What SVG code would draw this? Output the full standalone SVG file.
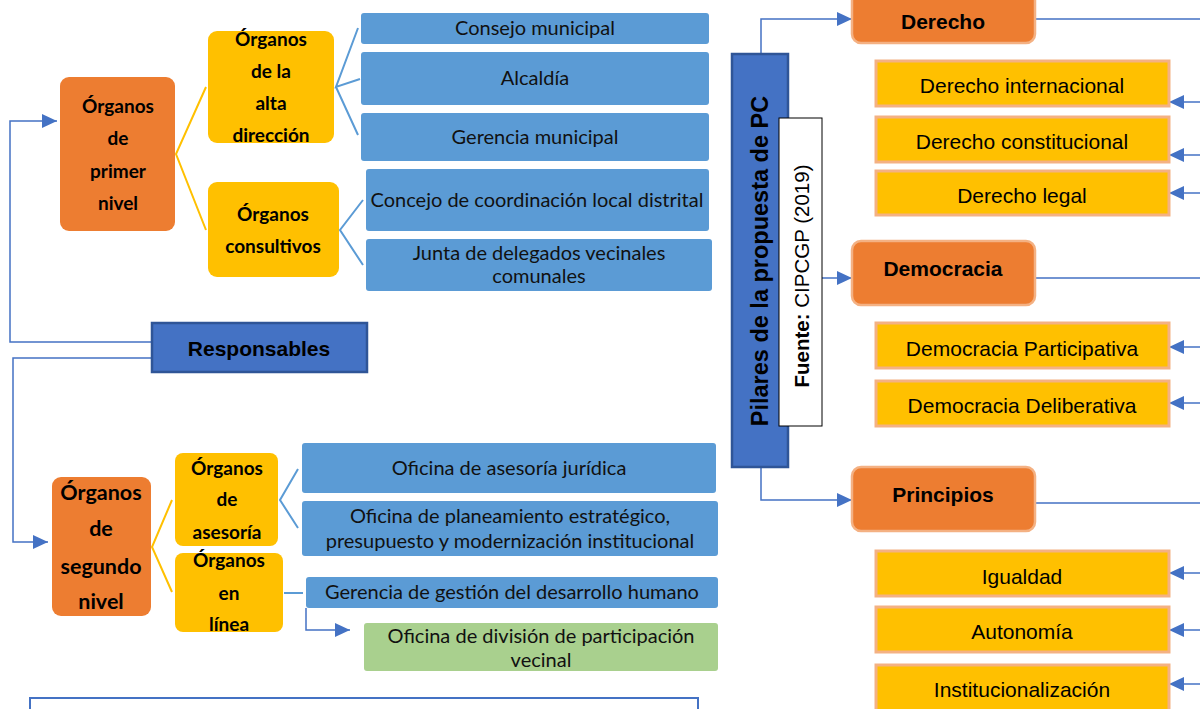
<svg xmlns="http://www.w3.org/2000/svg" width="1200" height="709" viewBox="0 0 1200 709">
<style>
.org{fill:#ED7D31}
.yel{fill:#FFC000}
.blu{fill:#5B9BD5}
.grn{fill:#A9D08E}
.dk{fill:#4472C4;stroke:#2F5597;stroke-width:2.5}
.oh{fill:#ED7D31;stroke:#F4B183;stroke-width:2.5}
.ys{fill:#FFC000;stroke:#F4B183;stroke-width:3}
.tb{font-family:Lato,"Open Sans",sans-serif;font-weight:bold;font-size:19px;fill:#000;text-anchor:middle}
.tn{font-family:Lato,"Open Sans",sans-serif;font-size:20px;fill:#111;text-anchor:middle}
.ta{font-family:"Liberation Sans",Arial,sans-serif;font-size:21px;fill:#000;text-anchor:middle}
.tab{font-family:"Liberation Sans",Arial,sans-serif;font-size:21px;font-weight:bold;fill:#000;text-anchor:middle}
.c{fill:none;stroke:#4472C4;stroke-width:1.5}
.fb{fill:none;stroke:#5B9BD5;stroke-width:2}
.fy{fill:none;stroke:#FFC000;stroke-width:2}
</style>
<defs>
<marker id="ah" viewBox="0 0 10 10" refX="10" refY="5" markerWidth="15" markerHeight="14" markerUnits="userSpaceOnUse" orient="auto" preserveAspectRatio="none"><path d="M0,0 L10,5 L0,10 z" fill="#4472C4"/></marker>
</defs>
<rect width="1200" height="709" fill="#fff"/>

<g id="connectors">
<path class="c" d="M152,342 H10 V121 H57" marker-end="url(#ah)"/>
<path class="c" d="M152,358 H13 V542 H48" marker-end="url(#ah)"/>
<path class="fy" d="M206,87 L176,154 L206,230"/>
<path class="fb" d="M358,28 L336,87 L360,79 M336,87 L358,135"/>
<path class="fb" d="M363,200 L340,230 L363,265"/>
<path class="fy" d="M172,500 L152,547 L172,592"/>
<path class="fb" d="M298,469 L280,500 L298,528"/>
<path class="fb" d="M284,593 H303"/>
<path class="c" d="M306,608 V630 H350" marker-end="url(#ah)"/>
<path class="c" d="M761,54 V19 H852" marker-end="url(#ah)"/>
<path class="c" d="M822,278 H852" marker-end="url(#ah)"/>
<path class="c" d="M761,467 V500 H852" marker-end="url(#ah)"/>
<path class="c" d="M1035,19 H1200 M1035,278 H1200 M1035,503 H1200"/>
<path class="c" d="M1200,102 H1169" marker-end="url(#ah)"/>
<path class="c" d="M1200,155 H1169" marker-end="url(#ah)"/>
<path class="c" d="M1200,193 H1169" marker-end="url(#ah)"/>
<path class="c" d="M1200,347 H1169" marker-end="url(#ah)"/>
<path class="c" d="M1200,403 H1169" marker-end="url(#ah)"/>
<path class="c" d="M1200,573 H1169" marker-end="url(#ah)"/>
<path class="c" d="M1200,630 H1169" marker-end="url(#ah)"/>
<path class="c" d="M1200,684 H1169" marker-end="url(#ah)"/>
</g>

<g id="primer-nivel">
<rect class="org" x="60" y="77" width="115" height="154" rx="9"/>
<text class="tb"><tspan x="118" y="113">Órganos</tspan><tspan x="118" y="145">de</tspan><tspan x="118" y="178">primer</tspan><tspan x="118" y="210">nivel</tspan></text>
</g>
<g id="alta-direccion">
<rect class="yel" x="208" y="31" width="126" height="112" rx="9"/>
<text class="tb"><tspan x="271" y="46">Órganos</tspan><tspan x="271" y="78">de la</tspan><tspan x="271" y="110">alta</tspan><tspan x="271" y="142">dirección</tspan></text>
</g>
<g id="consultivos">
<rect class="yel" x="208" y="182" width="131" height="95" rx="9"/>
<text class="tb"><tspan x="273" y="221">Órganos</tspan><tspan x="273" y="253">consultivos</tspan></text>
</g>
<g id="consejo">
<rect class="blu" x="361" y="13" width="348" height="31" rx="3"/>
<text class="tn" x="535" y="35">Consejo municipal</text>
</g>
<g id="alcaldia">
<rect class="blu" x="361" y="52" width="348" height="53" rx="3"/>
<text class="tn" x="535" y="85">Alcaldía</text>
</g>
<g id="gerencia-municipal">
<rect class="blu" x="361" y="113" width="348" height="48" rx="3"/>
<text class="tn" x="535" y="144">Gerencia municipal</text>
</g>
<g id="concejo-coordinacion">
<rect class="blu" x="366" y="169" width="343" height="62" rx="3"/>
<text class="tn" x="537" y="207">Concejo de coordinación local distrital</text>
</g>
<g id="junta">
<rect class="blu" x="366" y="239" width="346" height="52" rx="3"/>
<text class="tn"><tspan x="539" y="260">Junta de delegados vecinales</tspan><tspan x="539" y="283">comunales</tspan></text>
</g>

<g id="responsables">
<rect class="dk" x="152" y="323" width="215" height="49"/>
<text class="tab" x="259" y="356">Responsables</text>
</g>

<g id="segundo-nivel">
<rect class="org" x="52" y="477" width="99" height="139" rx="9"/>
<text class="tb" style="font-size:21.5px"><tspan x="101" y="500">Órganos</tspan><tspan x="101" y="536">de</tspan><tspan x="101" y="574">segundo</tspan><tspan x="101" y="609">nivel</tspan></text>
</g>
<g id="asesoria">
<rect class="yel" x="175" y="453" width="103" height="93" rx="8"/>
<text class="tb"><tspan x="227" y="475">Órganos</tspan><tspan x="227" y="506">de</tspan><tspan x="227" y="539">asesoría</tspan></text>
</g>
<g id="en-linea">
<rect class="yel" x="175" y="553" width="108" height="79" rx="8"/>
<text class="tb"><tspan x="229" y="567">Órganos</tspan><tspan x="229" y="600">en</tspan><tspan x="229" y="631">línea</tspan></text>
</g>
<g id="juridica">
<rect class="blu" x="302" y="443" width="414" height="50" rx="3"/>
<text class="tn" x="509" y="475">Oficina de asesoría jurídica</text>
</g>
<g id="planeamiento">
<rect class="blu" x="302" y="501" width="416" height="55" rx="3"/>
<text class="tn"><tspan x="510" y="523">Oficina de planeamiento estratégico,</tspan><tspan x="510" y="548">presupuesto y modernización institucional</tspan></text>
</g>
<g id="desarrollo-humano">
<rect class="blu" x="306" y="577" width="412" height="31" rx="3"/>
<text class="tn" x="512" y="599">Gerencia de gestión del desarrollo humano</text>
</g>
<g id="participacion-vecinal">
<rect class="grn" x="364" y="623" width="354" height="48" rx="3"/>
<text class="tn"><tspan x="541" y="643">Oficina de división de participación</tspan><tspan x="541" y="667">vecinal</tspan></text>
</g>
<g id="marco-inferior">
<rect x="30" y="698" width="668" height="30" fill="none" stroke="#4472C4" stroke-width="2"/>
</g>

<g id="pilares">
<rect class="dk" x="732" y="54" width="56" height="413"/>
<text class="tab" style="font-size:23.5px" transform="translate(760,261) rotate(-90)" x="0" y="8">Pilares de la propuesta de PC</text>
</g>
<g id="fuente">
<rect x="779" y="118" width="43" height="308" fill="#fff" stroke="#000" stroke-width="1"/>
<text class="ta" style="font-size:20.5px" transform="translate(802,276) rotate(-90)" x="0" y="7"><tspan font-weight="bold">Fuente:</tspan> CIPCGP (2019)</text>
</g>

<g id="derecho">
<rect class="oh" x="852" y="-12" width="183" height="55" rx="9"/>
<text class="tab" x="943" y="29">Derecho</text>
</g>
<g id="derecho-internacional">
<rect class="ys" x="876" y="61" width="293" height="45"/>
<text class="ta" x="1022" y="93">Derecho internacional</text>
</g>
<g id="derecho-constitucional">
<rect class="ys" x="876" y="117" width="293" height="45"/>
<text class="ta" x="1022" y="149">Derecho constitucional</text>
</g>
<g id="derecho-legal">
<rect class="ys" x="876" y="171" width="293" height="44"/>
<text class="ta" x="1022" y="203">Derecho legal</text>
</g>
<g id="democracia">
<rect class="oh" x="852" y="241" width="183" height="64" rx="9"/>
<text class="tab" x="943" y="276">Democracia</text>
</g>
<g id="democracia-participativa">
<rect class="ys" x="876" y="323" width="293" height="45"/>
<text class="ta" x="1022" y="356">Democracia Participativa</text>
</g>
<g id="democracia-deliberativa">
<rect class="ys" x="876" y="381" width="293" height="45"/>
<text class="ta" x="1022" y="413">Democracia Deliberativa</text>
</g>
<g id="principios">
<rect class="oh" x="852" y="467" width="183" height="64" rx="9"/>
<text class="tab" x="943" y="502">Principios</text>
</g>
<g id="igualdad">
<rect class="ys" x="876" y="551" width="293" height="45"/>
<text class="ta" x="1022" y="584">Igualdad</text>
</g>
<g id="autonomia">
<rect class="ys" x="876" y="607" width="293" height="45"/>
<text class="ta" x="1022" y="639">Autonomía</text>
</g>
<g id="institucionalizacion">
<rect class="ys" x="876" y="665" width="293" height="50"/>
<text class="ta" x="1022" y="697">Institucionalización</text>
</g>
</svg>
